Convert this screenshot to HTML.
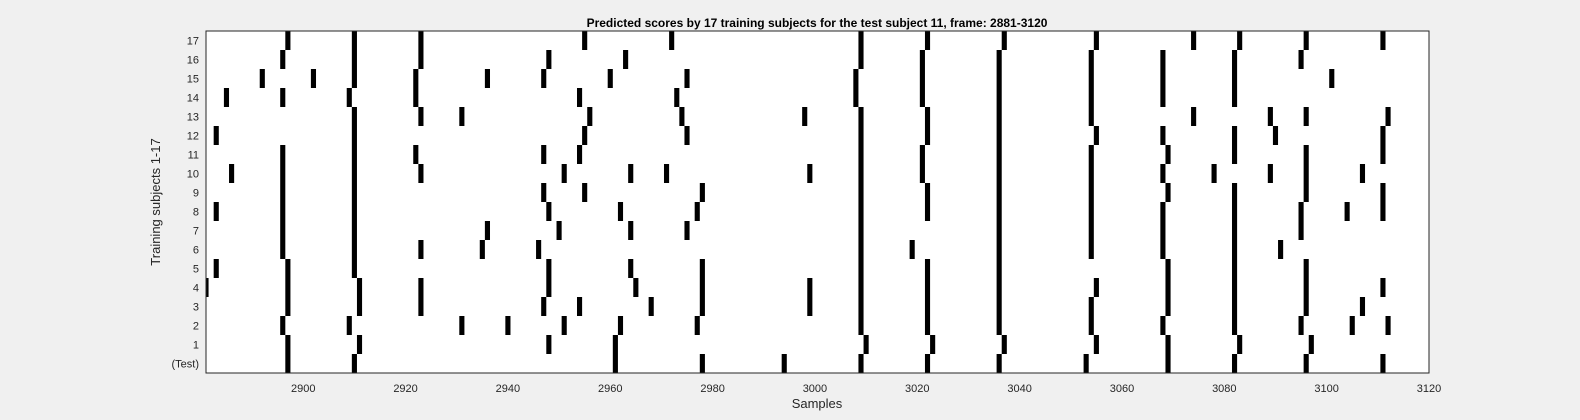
<!DOCTYPE html>
<html><head><meta charset="utf-8"><style>
html,body{margin:0;padding:0;background:#f0f0f0;}
svg{display:block;font-family:"Liberation Sans",sans-serif;}
</style></head><body>
<svg id="chart" width="1580" height="420" viewBox="0 0 1580 420" xmlns="http://www.w3.org/2000/svg">
<rect x="0" y="0" width="1580" height="420" fill="#f0f0f0"/>
<text x="817" y="27" text-anchor="middle" font-size="12" font-weight="bold" fill="#000">Predicted scores by 17 training subjects for the test subject 11, frame: 2881-3120</text>
<rect x="206" y="31" width="1223" height="342" fill="#fff"/>
<g id="marks"></g>
<g id="xticks"></g>
<g id="yticks"></g>
<rect x="206" y="31" width="1223" height="342" fill="none" stroke="#262626" stroke-width="1"/>
<text x="817" y="408" text-anchor="middle" font-size="13" fill="#262626">Samples</text>
<text transform="translate(160,202) rotate(-90)" text-anchor="middle" font-size="13" fill="#262626">Training subjects 1-17</text>
</svg>
<script>
const xTicks = [2900, 2920, 2940, 2960, 2980, 3000, 3020, 3040, 3060, 3080, 3100, 3120];
const rowLabels = ["(Test)","1","2","3","4","5","6","7","8","9","10","11","12","13","14","15","16","17"];
const rowTest = [2897, 2910, 2961, 2978, 2994, 3009, 3022, 3036, 3053, 3069, 3082, 3096, 3111];
const row1 = [2897, 2911, 2948, 2961, 3010, 3023, 3037, 3055, 3069, 3083, 3097];
const row2 = [2896, 2909, 2931, 2940, 2951, 2962, 2977, 3009, 3022, 3036, 3054, 3068, 3082, 3095, 3105, 3112];
const row3 = [2897, 2911, 2923, 2947, 2954, 2968, 2978, 2999, 3009, 3022, 3036, 3054, 3069, 3082, 3096, 3107];
const row4 = [2881, 2897, 2911, 2923, 2948, 2965, 2978, 2999, 3009, 3022, 3036, 3055, 3069, 3082, 3096, 3111];
const row5 = [2883, 2897, 2910, 2948, 2964, 2978, 3009, 3022, 3036, 3069, 3082, 3096];
const row6 = [2896, 2910, 2923, 2935, 2946, 3009, 3019, 3036, 3054, 3068, 3082, 3091];
const row7 = [2896, 2910, 2936, 2950, 2964, 2975, 3009, 3036, 3054, 3068, 3082, 3095];
const row8 = [2883, 2896, 2910, 2948, 2962, 2977, 3009, 3022, 3036, 3054, 3068, 3082, 3095, 3104, 3111];
const row9 = [2896, 2910, 2947, 2955, 2978, 3009, 3022, 3036, 3054, 3069, 3082, 3096, 3111];
const row10 = [2886, 2896, 2910, 2923, 2951, 2964, 2971, 2999, 3009, 3021, 3036, 3054, 3068, 3078, 3089, 3096, 3107];
const row11 = [2896, 2910, 2922, 2947, 2954, 3009, 3021, 3036, 3054, 3069, 3082, 3096, 3111];
const row12 = [2883, 2910, 2955, 2975, 3009, 3022, 3036, 3055, 3068, 3082, 3090, 3111];
const row13 = [2910, 2923, 2931, 2956, 2974, 2998, 3009, 3022, 3036, 3054, 3074, 3089, 3096, 3112];
const row14 = [2885, 2896, 2909, 2922, 2954, 2973, 3008, 3021, 3036, 3054, 3068, 3082];
const row15 = [2892, 2902, 2910, 2922, 2936, 2947, 2960, 2975, 3008, 3021, 3036, 3054, 3068, 3082, 3101];
const row16 = [2896, 2910, 2923, 2948, 2963, 3009, 3021, 3036, 3054, 3068, 3082, 3095];
const row17 = [2897, 2910, 2923, 2955, 2972, 3009, 3022, 3037, 3055, 3074, 3083, 3096, 3111];
const rows = [rowTest,row1,row2,row3,row4,row5,row6,row7,row8,row9,row10,row11,row12,row13,row14,row15,row16,row17];

const NS = "http://www.w3.org/2000/svg";
const L = 206, R = 1429, T = 31, B = 373;
const xMin = 2881, xMax = 3120;
function xs(v){ return L + (v - xMin) / (xMax - xMin) * (R - L); }
const rowH = (B - T) / rows.length;
function yTop(i){ return B - (i + 1) * rowH; }

const marks = document.getElementById('marks');
rows.forEach((vals, i) => {
  vals.forEach(v => {
    let x0 = Math.max(L, xs(v - 0.5)), x1 = Math.min(R, xs(v + 0.5));
    const r = document.createElementNS(NS, 'rect');
    r.setAttribute('x', x0); r.setAttribute('y', yTop(i));
    r.setAttribute('width', x1 - x0); r.setAttribute('height', rowH);
    r.setAttribute('fill', '#000');
    
    
    marks.appendChild(r);
  });
});

const xt = document.getElementById('xticks');
xTicks.forEach(t => {
  const tx = document.createElementNS(NS, 'text');
  tx.setAttribute('x', xs(t)); tx.setAttribute('y', 392);
  tx.setAttribute('text-anchor', 'middle'); tx.setAttribute('font-size', '11');
  tx.setAttribute('fill', '#262626');
  tx.textContent = t;
  
  
  xt.appendChild(tx);
});

const yt = document.getElementById('yticks');
rowLabels.forEach((lab, i) => {
  const tx = document.createElementNS(NS, 'text');
  tx.setAttribute('x', 199); tx.setAttribute('y', yTop(i) + rowH / 2 + 4);
  tx.setAttribute('text-anchor', 'end'); tx.setAttribute('font-size', '11');
  tx.setAttribute('fill', '#262626');
  tx.textContent = lab;
  
  
  yt.appendChild(tx);
});
</script>
</body></html>
